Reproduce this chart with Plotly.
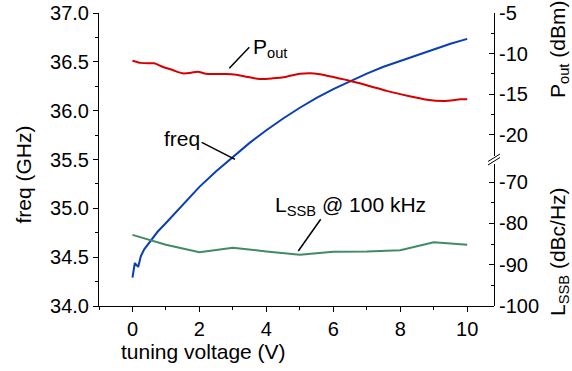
import plotly.graph_objects as go

# ---------------- data ----------------
volt_freq = [0, 0.07, 0.17, 0.25, 0.35, 0.5, 0.75, 1.0, 1.5, 2.0, 2.5, 3.0, 3.5,
             4.0, 4.5, 5.0, 5.5, 6.0, 6.5, 7.0, 7.5, 8.0, 8.5, 9.0, 9.5, 10.0]
freq_ghz = [34.29, 34.44, 34.40, 34.51, 34.58, 34.65, 34.76, 34.85, 35.04, 35.22,
            35.38, 35.53, 35.67, 35.80, 35.92, 36.03, 36.13, 36.22, 36.30, 36.38,
            36.45, 36.51, 36.57, 36.63, 36.685, 36.735]

volt_pout = [0, 0.25, 0.5, 0.65, 0.9, 1.2, 1.5, 1.75, 1.95, 2.2, 2.5, 2.8, 3.1,
             3.4, 3.8, 4.2, 4.6, 5.0, 5.3, 5.6, 6.0, 6.6, 7.0, 7.6, 8.0, 8.5,
             8.8, 9.3, 9.8, 10.0]
pout_dbm = [-10.88, -11.15, -11.2, -11.2, -11.62, -12.03, -12.44, -12.37, -12.24,
            -12.5, -12.52, -12.52, -12.62, -12.85, -13.14, -13.05, -12.85, -12.5,
            -12.42, -12.55, -12.9, -13.47, -13.9, -14.6, -15.0, -15.45, -15.7,
            -15.85, -15.65, -15.62]

volt_lssb = [0, 1, 2, 3, 4, 5, 6, 7, 8, 9, 10]
lssb_dbc = [-82.8, -85.2, -87.0, -85.9, -86.8, -87.6, -86.9, -86.8, -86.5, -84.6, -85.2]

x_ticks = [0, 2, 4, 6, 8, 10]
freq_ticks = [34.0, 34.5, 35.0, 35.5, 36.0, 36.5, 37.0]
pout_ticks = [-5, -10, -15, -20]
pout_ticktext = ["-5", "-10", "-15", "-20"]
pout_minor = [-7.5, -12.5, -17.5]
lssb_ticks = [-70, -80, -90, -100]
lssb_ticktext = ["-70", "-80", "-90", "-100"]
lssb_minor = [-75, -85, -95]

# ---------------- layout geometry ----------------
W, H = 572, 371
ML, MR, MT, MB = 99, 78, 13, 65
PW, PH = W - ML - MR, H - MT - MB


def px(xp):
    return (xp - ML) / PW


def py(yp):
    return (H - MB - yp) / PH


FONT = "Liberation Sans, Arial, Helvetica, sans-serif"
TICKF = dict(family=FONT, size=20, color="black")
TITLEF = dict(family=FONT, size=21, color="black")

RED = "#d70000"
BLUE = "#0a3fb4"
GREEN = "#428a66"

fig = go.Figure()
fig.add_trace(go.Scatter(x=volt_freq, y=freq_ghz, mode="lines", yaxis="y",
                         line=dict(color=BLUE, width=2),
                         showlegend=False))
fig.add_trace(go.Scatter(x=volt_pout, y=pout_dbm, mode="lines", yaxis="y2",
                         line=dict(color=RED, width=2, shape="spline", smoothing=0.8),
                         showlegend=False))
fig.add_trace(go.Scatter(x=volt_lssb, y=lssb_dbc, mode="lines", yaxis="y3",
                         line=dict(color=GREEN, width=2),
                         showlegend=False))

y2_bot_px, y3_top_px = 156, 164
y2_lo = -5 - (y2_bot_px - MT) / 8.11
y3_hi = -100 + (H - MB - y3_top_px) / 4.133

axis_common = dict(showline=True, linecolor="black", linewidth=1, showgrid=False,
                   zeroline=False, tickcolor="black", tickwidth=1, tickfont=TICKF,
                   automargin=False)

fig.update_layout(
    width=W, height=H,
    margin=dict(l=ML, r=MR, t=MT, b=MB, pad=0, autoexpand=False),
    paper_bgcolor="white", plot_bgcolor="rgba(0,0,0,0)",
    showlegend=False,
    xaxis=dict(range=[-1, 10.8], tickmode="array", tickvals=x_ticks,
               ticks="outside", ticklen=5,
               minor=dict(ticks="outside", ticklen=3, dtick=1, tick0=-1,
                          tickcolor="black", showgrid=False),
               **axis_common),
    yaxis=dict(range=[34, 37], tickmode="array", tickvals=freq_ticks,
               tickformat=".1f", ticks="outside", ticklen=5,
               minor=dict(ticks="outside", ticklen=3, dtick=0.25, tick0=34,
                          tickcolor="black", showgrid=False),
               **axis_common),
    yaxis2=dict(domain=[py(y2_bot_px), 1], anchor="x", side="right",
                range=[y2_lo, -5], tickmode="array", tickvals=pout_ticks,
                ticktext=pout_ticktext, ticks="inside", ticklen=5,
                minor=dict(ticks="inside", ticklen=3, tickmode="array",
                           tickvals=pout_minor, tickcolor="black", showgrid=False),
                **axis_common),
    yaxis3=dict(domain=[0, py(y3_top_px)], anchor="x", side="right",
                range=[-100, y3_hi], tickmode="array", tickvals=lssb_ticks,
                ticktext=lssb_ticktext, ticks="inside", ticklen=5,
                minor=dict(ticks="inside", ticklen=3, tickmode="array",
                           tickvals=lssb_minor, tickcolor="black", showgrid=False),
                **axis_common),
)

ann = []
# axis titles
ann.append(dict(text="tuning voltage (V)", x=px(203), y=py(351)))
ann.append(dict(text="freq (GHz)", x=px(22.5), y=py(175), textangle=-90))
ann.append(dict(text="P<sub>out</sub> (dBm)", x=px(559), y=py(50), textangle=-90))
ann.append(dict(text="L<sub>SSB</sub> (dBc/Hz)", x=px(559), y=py(252), textangle=-90))
# in-plot labels
ann.append(dict(text="P<sub>out</sub>", x=px(251), y=py(48), xanchor="left"))
ann.append(dict(text="freq", x=px(162), y=py(138), xanchor="left"))
ann.append(dict(text="L<sub>SSB</sub> @ 100 kHz", x=px(273), y=py(206), xanchor="left"))
for a in ann:
    a.setdefault("xanchor", "center")
    a.update(xref="paper", yref="paper", showarrow=False, yanchor="middle",
             font=TITLEF)
fig.update_layout(annotations=ann)

shapes = []
pointer_lines = [((229.3, 68.3), (249.3, 47.3)),
                 ((201.7, 142.3), (235, 159.3)),
                 ((298.3, 251), (320.7, 219.3))]
for (x0, y0), (x1, y1) in pointer_lines:
    shapes.append(dict(type="line", xref="paper", yref="paper",
                       x0=px(x0), y0=py(y0), x1=px(x1), y1=py(y1),
                       line=dict(color="black", width=1.5)))
# axis break marks
for dy in (0, -3.5):
    shapes.append(dict(type="line", xref="paper", yref="paper",
                       x0=px(488), y0=py(165 + dy), x1=px(500), y1=py(157.5 + dy),
                       line=dict(color="black", width=1)))
fig.update_layout(shapes=shapes)

fig.write_html("out.html")
